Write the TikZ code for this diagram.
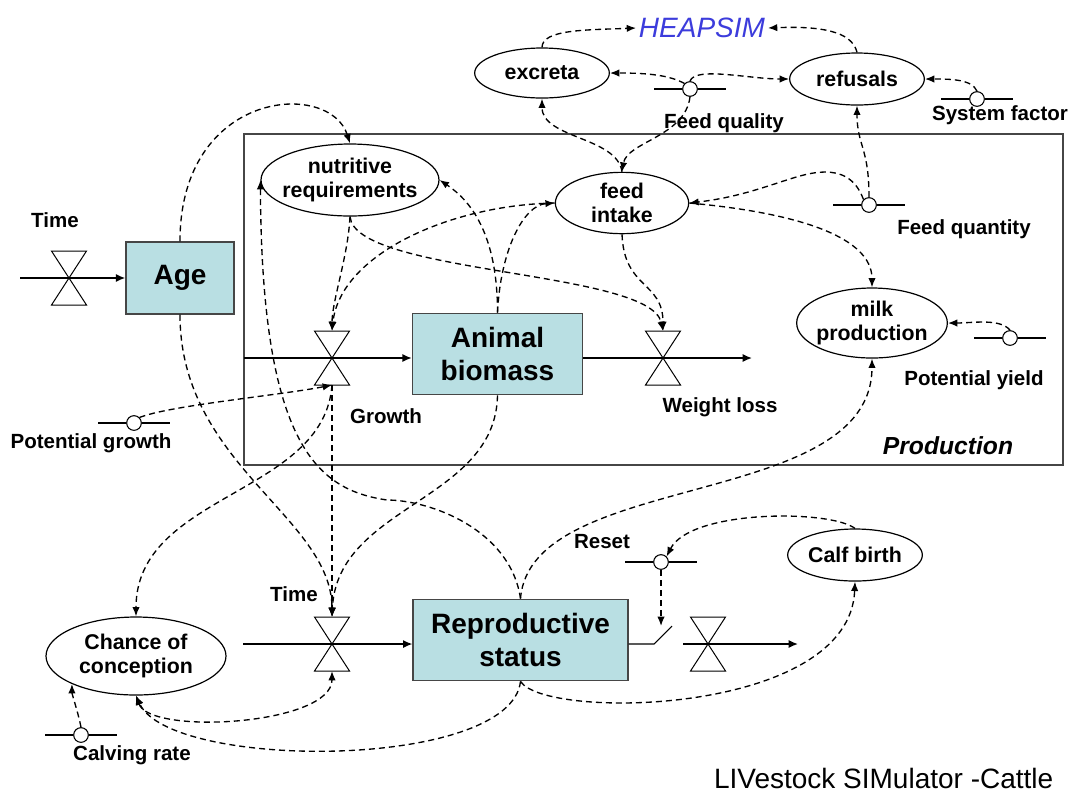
\documentclass[tikz,border=0pt]{standalone}
\usepackage{fontspec}
\setmainfont{Liberation Sans}
\usepackage{tikz}
\usetikzlibrary{arrows.meta,shapes.geometric}
\usepackage{xcolor}
\definecolor{stockfill}{RGB}{185,223,227}
\definecolor{heapblue}{RGB}{60,60,220}
\definecolor{framegray}{RGB}{70,70,70}

\begin{document}
\begin{tikzpicture}[x=0.75pt,y=-0.75pt,
    stock/.style={draw=framegray,fill=stockfill,line width=1.1pt,inner sep=0pt,
      align=center,font=\fontsize{21}{25}\selectfont\bfseries},
    auxtext/.style={align=center,font=\fontsize{16}{18}\selectfont\bfseries},
    aux/.style={ellipse,draw,line width=0.9pt,inner sep=0pt,
      label={[auxtext]center:{#1}}},
    param/.style={circle,draw,line width=0.8pt,fill=white,inner sep=0pt,minimum size=11pt},
    lbl/.style={font=\fontsize{15.4}{18}\selectfont\bfseries},
    flow/.style={line width=1.1pt,-{Latex[length=7pt,width=6pt]}},
    infl/.style={line width=1pt,dash pattern=on 4.5pt off 3pt,
      -{Latex[length=7pt,width=5.5pt]}},
    valve/.pic={
      \draw[line width=0.75pt] (-17.5,-27) -- (17.5,-27) -- (-17.5,27) -- (17.5,27) -- cycle;
      \coordinate (-top) at (0,-27);
      \coordinate (-bot) at (0,27);
      \coordinate (-c) at (0,0);
    }]
  \useasboundingbox (0,0) rectangle (1069,794);

  \draw[framegray,line width=1pt] (244,134) rectangle (1063,465);

  \node[stock,minimum width=81pt,minimum height=54pt] (age) at (180,278) {Age};
  \node[stock,minimum width=127.5pt,minimum height=61pt] (ab) at (497.5,354) {Animal\\biomass};
  \node[stock,minimum width=161pt,minimum height=61pt] (rs) at (520.5,640) {Reproductive\\status};

  \node[aux={excreta},minimum width=101pt,minimum height=37.5pt] (ex) at (542,73) {};
  \node[aux={refusals},minimum width=101pt,minimum height=39pt] (rf) at (857,79) {};
  \node[aux={nutritive\\requirements},minimum width=133.5pt,minimum height=54pt] (nr) at (350,180) {};
  \node[aux={feed\\intake},minimum width=100pt,minimum height=46pt] (fi) at (622,203) {};
  \node[aux={milk\\production},minimum width=113pt,minimum height=52.5pt] (mp) at (872,323) {};
  \node[aux={Calf birth},minimum width=101pt,minimum height=39pt] (cb) at (855,555) {};
  \node[aux={Chance of\\conception},minimum width=135pt,minimum height=58.5pt] (cc) at (136,656) {};

  \node[param] (fq) at (690,89) {};
  \node[param] (sf) at (977,99) {};
  \node[param] (fqt) at (869,205) {};
  \node[param] (py) at (1010,338) {};
  \node[param] (pg) at (134,423) {};
  \node[param] (rst) at (661,562) {};
  \node[param] (cr) at (81,735) {};
  \foreach \p in {fq,sf,fqt,py,pg,rst,cr}
    \draw[line width=0.8pt] (\p.west) -- ++(-28,0) (\p.east) -- ++(28,0);

  \node[lbl] (time1) at (55,220) {Time};
  \node[lbl] (time2) at (294,594) {Time};
  \node[lbl] (lfq) at (724,123) {Feed quality};
  \node[lbl] (lsf) at (1000,115) {System factor};
  \node[lbl] (lfqt) at (964,229) {Feed quantity};
  \node[lbl] (lpy) at (974,380) {Potential yield};
  \node[lbl] (lpg) at (91,443) {Potential growth};
  \node[lbl] (lgr) at (386,416) {Growth};
  \node[lbl] (lwl) at (720,407) {Weight loss};
  \node[lbl] (lrst) at (602,542) {Reset};
  \node[lbl] (lcr) at (132,755) {Calving rate};
  \node[font=\fontsize{18.5}{22}\selectfont\bfseries\itshape] (prod) at (948,446) {Production};
  \node[heapblue,inner sep=2pt,font=\fontsize{21}{25}\selectfont\itshape] (hs) at (702,28) {HEAPSIM};
  \node[anchor=east,font=\fontsize{21}{25}\selectfont] (title) at (1058,778) {LIVestock SIMulator -Cattle};

  \pic (tv1) at (69,278) {valve};
  \pic (gv) at (332,358) {valve};
  \pic (wv) at (663,358) {valve};
  \pic (tv2) at (332,644) {valve};
  \pic (ov) at (708,644) {valve};

  \coordinate (src1) at (20,278);
  \coordinate (src2) at (244,358);
  \coordinate (snk2) at (752,358);
  \coordinate (src3) at (243,644);
  \coordinate (swA) at (654,644);
  \coordinate (swB) at (672,626);
  \coordinate (src4) at (683,644);
  \coordinate (snk4) at (798,644);
  \draw[flow] (src1) -- (age.west);
  \draw[flow] (src2) -- (src2 -| ab.west);
  \draw[flow] (ab.east |- snk2) -- (snk2);
  \draw[flow] (src3) -- (src3 -| rs.west);
  \draw[line width=0.8pt] (rs.east |- swA) -- (swA) -- (swB);
  \draw[flow] (src4) -- (snk4);

  \draw[infl] (ex.north) .. controls +(0,-18) and +(-50,2) .. (hs.west);
  \draw[infl] (rf.north) .. controls +(-5,-22) and +(50,-2) .. (hs.east);
  \draw[infl] (fq.north west) .. controls +(-15,-8) and +(40,0) .. (ex.east);
  \draw[infl] (fq.north) .. controls +(5,-15) and +(-40,0) .. (rf.west);
  \draw[infl] (sf.north) .. controls +(-5,-12) and +(25,0) .. (rf.east);
  \draw[infl] (fq.south) .. controls +(-5,40) and +(5,-30) .. (fi.north);
  \draw[infl] (fi.north) .. controls +(-5,-35) and +(0,40) .. (ex.south);
  \draw[infl] (fqt.north) .. controls +(0,-50) and +(0,40) .. (rf.south);
  \draw[infl] (fqt.north west) .. controls +(-8,-22) and +(15,0) .. (825,172)
    .. controls +(-30,0) and +(70,-8) .. (fi.east);
  \draw[infl] (fi.east) .. controls +(110,10) and +(0,-50) .. (mp.north);
  \draw[infl] (py.north) .. controls +(-10,-12) and +(25,0) .. (mp.east);
  \draw[infl] (fi.south) .. controls +(2,55) and +(0,-50) .. (wv-top);
  \draw[infl] (nr.south) .. controls +(5,58) and +(-13,-61) .. (wv-top);
  \draw[infl] (nr.south) .. controls +(-2,40) and +(0,-30) .. (gv-top);
  \draw[infl] (fi.west) .. controls +(-106,2) and +(8,-76) .. (gv-top);
  \draw[infl] (ab.north) .. controls +(0,-80) and +(30,20) .. (nr.east);
  \draw[infl] (ab.north) .. controls +(3,-63) and +(-31,2) .. (fi.west);
  \draw[infl] (age.north) .. controls +(0,-152) and +(-20,-64) .. (nr.north);
  \draw[infl] (age.south) .. controls +(0,150) and +(0,-100) .. (tv2-top);
  \draw[infl] (rs.north) .. controls +(-10,-69) and +(43,0) .. (387,500)
    .. controls +(-67,-10) and +(1,270) .. (nr.west);
  \draw[infl] (rs.north) .. controls +(10,-129) and +(0,152) .. (mp.south);
  \draw[infl] (pg.north east) .. controls +(30,-12) and +(-50,10) .. (gv-bot);
  \draw[infl] (gv-bot) .. controls +(-8,110) and +(0,-123) .. (cc.north);
  \draw[infl] (gv-bot) -- (tv2-top);
  \draw[infl] (ab.south) .. controls +(-2,106) and +(5,-112) .. (tv2-top);
  \draw[infl,{Latex[length=7pt,width=5.5pt]}-{Latex[length=7pt,width=5.5pt]}]
    (cc.south) .. controls +(14,40) and +(0,54) .. (tv2-bot);
  \draw[infl] (rs.south) .. controls +(-10,89) and +(34,75) .. (cc.south);
  \draw[infl] (rs.south) .. controls +(25,39) and +(-5,134) .. (cb.south);
  \draw[infl] (cb.north) .. controls +(-25,-19) and +(24,-47) .. (rst.north east);
  \draw[infl] (rst.south) -- (rst.south |- swB);
  \draw[infl] (cr.north) .. controls +(-3,-15) and +(0,10) .. (cc.south west);
\end{tikzpicture}
\end{document}
